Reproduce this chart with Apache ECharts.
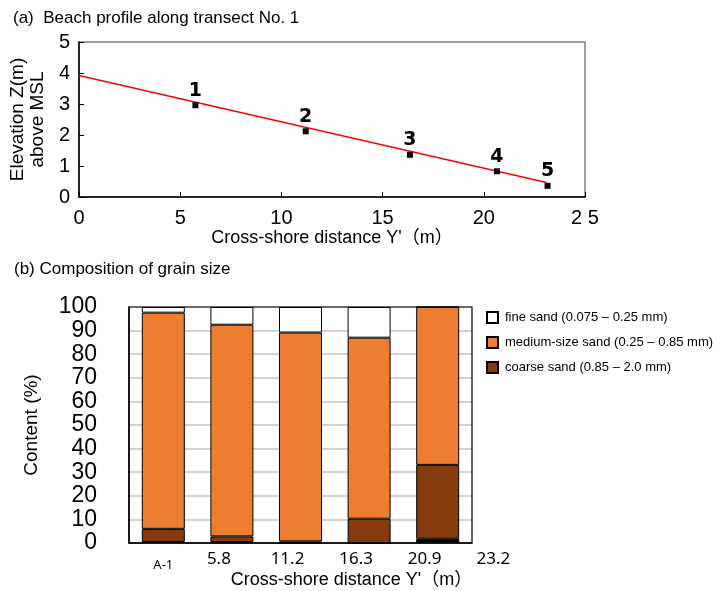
<!DOCTYPE html>
<html>
<head>
<meta charset="utf-8">
<script src="https://cdn.jsdelivr.net/npm/echarts@6/dist/echarts.min.js"></script>
<style>
  html, body { margin: 0; padding: 0; background: #fff; }
  #main { width: 724px; height: 591px; }
</style>
</head>
<body>
<div id="main"></div>
<script>
// (a) beach profile
var profileX = [5.75, 11.2, 16.35, 20.65, 23.15];
var profileZ = [2.96, 2.12, 1.36, 0.83, 0.36];
var pointNames = ['1', '2', '3', '4', '5'];
var fitX = [0, 23.1];
var fitZ = [3.92, 0.47];
var profileXTicks = ['0', '5', '10', '15', '20', '2 5'];

// (b) grain size composition, % per site (bottom to top)
var sites = ['A-1', '5.8', '11.2', '16.3', '20.9'];
var distanceLabels = ['A-1', '5.8', '11.2', '16.3', '20.9', '23.2'];
var gravel = [0.4, 0.4, 0, 0, 1.8];
var coarse = [5.6, 2.4, 0.7, 10.3, 31.3];
var medium = [91.6, 89.7, 88.5, 76.7, 66.9];
var fine = [2.4, 7.5, 10.8, 13.0, 0];

var FONT = '"Liberation Sans", "Noto Sans CJK JP", sans-serif';

var chart = echarts.init(document.getElementById('main'));

function pairs(xs, ys) {
    return xs.map(function (x, i) { return [x, ys[i]]; });
}

function barSeries(name, data, color) {
    return {
        name: name,
        type: 'bar',
        stack: 'grain',
        xAxisIndex: 1,
        yAxisIndex: 1,
        barWidth: 43,
        data: data,
        itemStyle: { color: color, borderColor: '#000', borderWidth: 1 },
        emphasis: { disabled: true },
        z: 5
    };
}

var option = {
    animation: false,
    backgroundColor: '#fff',
    title: [
        { text: '(a)  Beach profile along transect No. 1', left: 8, top: 5,
          textStyle: { fontFamily: FONT, fontSize: 17, fontWeight: 'normal', color: '#000' } },
        { text: '(b) Composition of grain size', left: 9, top: 256,
          textStyle: { fontFamily: FONT, fontSize: 17, fontWeight: 'normal', color: '#000' } }
    ],
    legend: {
        data: ['fine sand (0.075 – 0.25 mm)', 'medium-size sand (0.25 – 0.85 mm)', 'coarse sand (0.85 – 2.0 mm)'],
        orient: 'vertical',
        left: 481,
        top: 306,
        itemWidth: 11,
        itemHeight: 11,
        itemGap: 12,
        icon: 'rect',
        selectedMode: false,
        textStyle: { fontFamily: FONT, fontSize: 13, color: '#000', padding: [0, 0, 0, 2] }
    },
    grid: [
        { left: 77, top: 42, width: 508, height: 155, show: true,
          borderColor: '#7f7f7f', borderWidth: 1.5 },
        { left: 129, top: 307, width: 343, height: 236, show: false }
    ],
    xAxis: [
        {
            type: 'value', gridIndex: 0, min: 0, max: 25, interval: 5,
            name: 'Cross-shore distance Y\'（m）',
            nameLocation: 'middle', nameGap: 32,
            nameTextStyle: { fontFamily: FONT, fontSize: 18, color: '#000' },
            axisLine: { lineStyle: { color: '#000', width: 1.5 } },
            axisTick: { inside: true, length: 5, lineStyle: { color: '#000' } },
            axisLabel: {
                fontFamily: FONT, fontSize: 20, color: '#000', margin: 11,
                showMinLabel: true, showMaxLabel: true,
                formatter: function (v) { return profileXTicks[Math.round(v / 5)]; }
            },
            splitLine: { show: false }
        },
        {
            type: 'category', gridIndex: 1, data: sites,
            name: 'Cross-shore distance Y\'（m）',
            nameLocation: 'middle', nameGap: 28,
            nameTextStyle: { fontFamily: FONT, fontSize: 18, color: '#000', padding: [0, 0, 0, 102] },
            axisLine: { lineStyle: { color: '#000', width: 1.5 } },
            axisTick: { show: false },
            axisLabel: { show: false },
            splitLine: { show: false }
        }
    ],
    yAxis: [
        {
            type: 'value', gridIndex: 0, min: 0, max: 5, interval: 1,
            name: 'Elevation Z(m)\nabove MSL',
            nameLocation: 'middle', nameGap: 24,
            nameTextStyle: { fontFamily: FONT, fontSize: 19, color: '#000', lineHeight: 20 },
            axisLine: { show: true, lineStyle: { color: '#000', width: 1.5 } },
            axisTick: { show: true, inside: true, length: 5, lineStyle: { color: '#000' } },
            axisLabel: { fontFamily: FONT, fontSize: 20, color: '#000', margin: 9,
                         showMinLabel: true, showMaxLabel: true },
            splitLine: { show: false }
        },
        {
            type: 'value', gridIndex: 1, min: 0, max: 100, interval: 10,
            name: 'Content (%)',
            nameLocation: 'middle', nameGap: 88,
            nameTextStyle: { fontFamily: FONT, fontSize: 19, color: '#000' },
            axisLine: { show: true, lineStyle: { color: '#000', width: 1.5 } },
            axisTick: { show: false },
            axisLabel: { fontFamily: FONT, fontSize: 23, color: '#000', margin: 32,
                         showMinLabel: true, showMaxLabel: true, hideOverlap: false },
            splitLine: { show: true, lineStyle: { color: '#c4c4c4', width: 1.5 } }
        }
    ],
    series: [
        {
            type: 'line',
            xAxisIndex: 0, yAxisIndex: 0,
            data: pairs(fitX, fitZ),
            showSymbol: false,
            lineStyle: { color: '#ff0000', width: 1.5 },
            z: 2
        },
        {
            type: 'scatter',
            xAxisIndex: 0, yAxisIndex: 0,
            data: pairs(profileX, profileZ),
            symbol: 'rect',
            symbolSize: 6,
            itemStyle: { color: '#000', opacity: 1 },
            label: {
                show: true, position: 'top', distance: 2,
                fontFamily: '"DejaVu Sans", sans-serif', fontWeight: 'bold', fontSize: 19, color: '#000',
                formatter: function (p) { return pointNames[p.dataIndex]; }
            },
            z: 3
        },
        barSeries('gravel', gravel, '#000000'),
        barSeries('coarse sand (0.85 – 2.0 mm)', coarse, '#843c0c'),
        barSeries('medium-size sand (0.25 – 0.85 mm)', medium, '#ed7d31'),
        barSeries('fine sand (0.075 – 0.25 mm)', fine, '#ffffff')
    ]
};

chart.setOption(option);

// positions from the bottom chart's own axes
var centers = sites.map(function (s) {
    return chart.convertToPixel({ xAxisIndex: 1 }, s);
});
var slot = centers[1] - centers[0];
var bottomY = chart.convertToPixel({ yAxisIndex: 1 }, 0);
var topY = chart.convertToPixel({ yAxisIndex: 1 }, 100);
var plotLeft = centers[0] - slot / 2;
var plotRight = centers[centers.length - 1] + slot / 2;

// frame of the bottom plot
var frame = {
    type: 'rect',
    z: 7,
    silent: true,
    shape: { x: plotLeft, y: topY, width: plotRight - plotLeft, height: bottomY - topY },
    style: { fill: 'none', stroke: '#000', lineWidth: 1.2 }
};

// distance labels under the bars; the last one sits one slot past the plot
var labels = distanceLabels.map(function (t, i) {
    var cx = i < centers.length ? centers[i] : centers[centers.length - 1] + slot * (i - centers.length + 1);
    var first = i === 0;
    return {
        type: 'text',
        x: first ? cx : cx - 13,
        y: bottomY + (first ? 22 : 16),
        style: {
            text: t,
            fontFamily: '"Noto Sans", sans-serif',
            fontSize: first ? 13 : 17,
            fill: '#000',
            align: 'center',
            verticalAlign: 'middle'
        }
    };
});
chart.setOption({ graphic: [frame].concat(labels) });
</script>
</body>
</html>
